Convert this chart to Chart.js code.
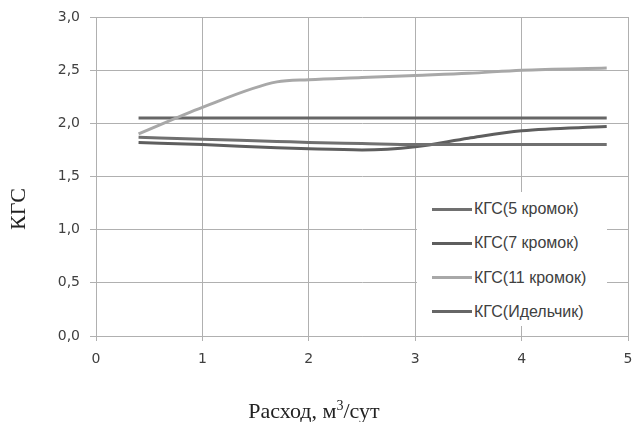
<!DOCTYPE html>
<html lang="ru">
<head>
  <meta charset="UTF-8" />
  <title>КГС - Расход</title>
  <script src="https://cdn.jsdelivr.net/npm/chart.js"></script>
  <style>
    body {
      margin: 0;
      background: #ffffff;
    }

    .wrap {
      position: relative;
      width: 638px;
      height: 422px;
    }

    #legendBox {
      position: absolute;
      left: 417px;
      top: 192px;
      width: 190px;
      height: 134px;
      background: #ffffff;
      font-family: 'Liberation Sans', sans-serif;
      font-size: 16px;
      color: #404040;
    }

    .item {
      position: absolute;
      left: 15px;
      display: flex;
      align-items: center;
      height: 20px;
      white-space: nowrap;
    }

    .item span.swatch {
      display: inline-block;
      width: 40px;
      height: 3px;
      margin-right: 2px;
    }
  </style>
</head>
<body>
  <div class="wrap">
    <canvas id="kgsChart" width="638" height="422"></canvas>
    <div id="legendBox"></div>
  </div>

  <script>
    // data
    const flow = [0.4, 1.0, 1.7, 2.0, 2.5, 3.0, 3.5, 4.0, 4.8];
    const kgs5 = [1.87, 1.85, 1.83, 1.82, 1.81, 1.80, 1.80, 1.80, 1.80];
    const kgs7 = [1.82, 1.80, 1.77, 1.76, 1.75, 1.78, 1.86, 1.93, 1.97];
    const kgs11 = [1.90, 2.15, 2.39, 2.41, 2.43, 2.45, 2.47, 2.50, 2.52];
    const kgsIdel = [2.05, 2.05, 2.05, 2.05, 2.05, 2.05, 2.05, 2.05, 2.05];

    const seriesNames = ['КГС(5 кромок)', 'КГС(7 кромок)', 'КГС(11 кромок)', 'КГС(Идельчик)'];
    const seriesColors = ['#707070', '#5e5e5e', '#a8a8a8', '#666666'];
    const seriesValues = [kgs5, kgs7, kgs11, kgsIdel];

    const xTicks = [0, 1, 2, 3, 4, 5];
    const yTicks = [0, 0.5, 1.0, 1.5, 2.0, 2.5, 3.0];

    const gridColor = '#b0b0b0';
    const textColor = '#404040';

    const datasets = seriesValues.map((vals, i) => ({
      label: seriesNames[i],
      data: vals.map((v, j) => ({ x: flow[j], y: v })),
      borderColor: seriesColors[i],
      backgroundColor: seriesColors[i],
      borderWidth: 3,
      pointRadius: 0,
      cubicInterpolationMode: 'monotone',
      fill: false
    }));

    // axis titles, placed like the original (not centred on the plot)
    const axisTitles = {
      id: 'axisTitles',
      afterDraw(chart) {
        const ctx = chart.ctx;
        ctx.save();
        ctx.fillStyle = '#222222';
        ctx.textBaseline = 'alphabetic';
        ctx.textAlign = 'left';

        // x title with a real superscript
        const bigFont = '22px "Liberation Serif", serif';
        const smallFont = '14px "Liberation Serif", serif';
        const p1 = 'Расход, м', p2 = '3', p3 = '/сут';
        ctx.font = bigFont;
        const w1 = ctx.measureText(p1).width, w3 = ctx.measureText(p3).width;
        ctx.font = smallFont;
        const w2 = ctx.measureText(p2).width;
        let x = 314 - (w1 + w2 + w3) / 2;
        const base = 418;
        ctx.font = bigFont;
        ctx.fillText(p1, x, base);
        x += w1;
        ctx.font = smallFont;
        ctx.fillText(p2, x, base - 8);
        x += w2;
        ctx.font = bigFont;
        ctx.fillText(p3, x, base);

        // y title
        ctx.textAlign = 'center';
        ctx.textBaseline = 'middle';
        ctx.translate(19, 209);
        ctx.rotate(-Math.PI / 2);
        ctx.fillText('КГС', 0, 0);
        ctx.restore();
      }
    };

    new Chart(document.getElementById('kgsChart'), {
      type: 'line',
      data: { datasets: datasets },
      plugins: [axisTitles],
      options: {
        responsive: false,
        animation: false,
        layout: { padding: { top: 17, right: 10, left: 0, bottom: 0 } },
        plugins: {
          legend: { display: false },
          tooltip: { enabled: false }
        },
        scales: {
          x: {
            type: 'linear',
            min: 0,
            max: 5,
            afterBuildTicks: (axis) => { axis.ticks = xTicks.map(v => ({ value: v })); },
            afterFit: (axis) => {
              axis.height = 86;
              axis.paddingLeft = 0;
              axis.paddingRight = 0;
            },
            grid: { color: gridColor, tickLength: 5, tickColor: gridColor },
            border: { color: gridColor },
            ticks: {
              color: textColor,
              padding: 10,
              font: { family: 'DejaVu Sans', size: 14 },
              maxRotation: 0,
              callback: (v) => String(v)
            }
          },
          y: {
            min: 0,
            max: 3,
            afterBuildTicks: (axis) => { axis.ticks = yTicks.map(v => ({ value: v })); },
            afterFit: (axis) => {
              axis.width = 96;
              axis.paddingTop = 0;
              axis.paddingBottom = 0;
            },
            grid: { color: gridColor, tickLength: 6, tickColor: gridColor },
            border: { color: gridColor },
            ticks: {
              color: textColor,
              padding: 10,
              font: { family: 'DejaVu Sans', size: 14 },
              callback: (v) => v.toFixed(1).replace('.', ',')
            }
          }
        }
      }
    });

    // legend built from the same series lists
    const legendBox = document.getElementById('legendBox');
    seriesNames.forEach((name, i) => {
      const item = document.createElement('div');
      item.className = 'item';
      item.style.top = (7 + i * 34.3) + 'px';
      item.innerHTML = '<span class="swatch" style="background:' + seriesColors[i] + '"></span>' + name;
      legendBox.appendChild(item);
    });
  </script>
</body>
</html>
